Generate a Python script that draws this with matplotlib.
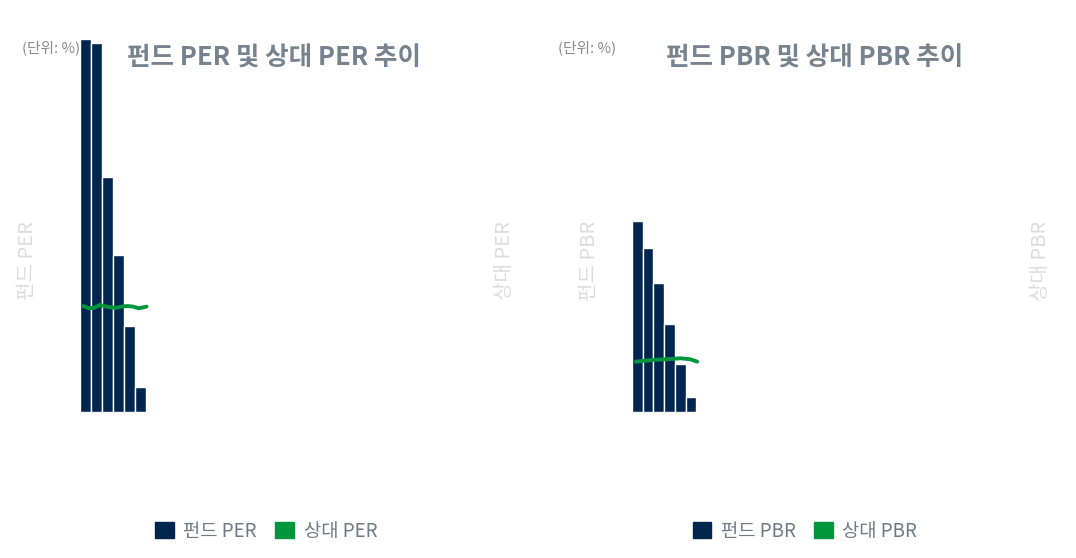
import matplotlib.pyplot as plt
from matplotlib.patches import Patch

plt.rcParams['font.family'] = ['Noto Sans CJK KR', 'DejaVu Sans']

# data (no tick labels are shown so scale is relative)
fund_per = [40.0, 39.6, 25.2, 16.8, 9.2, 2.7]
rel_per_x = [-0.2, 0.3, 0.8, 1.3, 1.8, 2.3, 2.8, 3.3, 3.8, 4.3, 4.8, 5.5]
rel_per = [0.568, 0.556, 0.559, 0.574, 0.566, 0.561, 0.559, 0.566, 0.568, 0.565, 0.556, 0.565]

fund_pbr = [2.05, 1.76, 1.38, 0.94, 0.51, 0.16]
rel_pbr_x = [-0.13, 1.46, 3.05, 3.99, 4.92, 5.57]
rel_pbr = [0.270, 0.279, 0.284, 0.288, 0.283, 0.270]

navy = '#00264f'
green = '#00963c'
title_c = '#76828e'
n_slots = 37

W, H = 1076, 558
fig = plt.figure(figsize=(W / 100, H / 100), dpi=100)


def px(x0, y0, w, h):
    return [x0 / W, 1 - (y0 + h) / H, w / W, h / H]


def panel(rect, fund, rx, rel, ymax, fund_lbl, rel_lbl, title, tx, lab_l, lab_r, leg_x):
    ax = fig.add_axes(rect)
    ax.bar(range(len(fund)), fund, width=1.0, color=navy, edgecolor='white', linewidth=1)
    ax.set_xlim(-0.5, n_slots - 0.5)
    ax.set_ylim(0, ymax)
    ax.axis('off')
    ax2 = ax.twinx()
    ax2.plot(rx, rel, color=green, lw=2.8, solid_capstyle='round')
    ax2.set_ylim(0, 2)
    ax2.axis('off')

    fig.text(tx / W, 1 - 58 / H, title, ha='center', va='center',
             fontsize=18.4, fontweight='bold', color=title_c)
    fig.text(lab_l / W, 1 - 261 / H, fund_lbl, rotation=90, ha='center', va='center',
             fontsize=14.5, color='#dcdcdc')
    fig.text(lab_r / W, 1 - 261 / H, rel_lbl, rotation=90, ha='center', va='center',
             fontsize=14.5, color='#dcdcdc')
    handles = [Patch(color=navy, label=fund_lbl), Patch(color=green, label=rel_lbl)]
    fig.legend(handles=handles, ncol=2, loc='center', bbox_to_anchor=(leg_x / W, 1 - 531 / H),
               frameon=False, fontsize=13.5, labelcolor='#6e7b87', handlelength=1.0,
               handleheight=1.0, handletextpad=0.5, columnspacing=1.0)


panel(px(80, 39, 410, 373), fund_per, rel_per_x, rel_per, 40,
      '펀드 PER', '상대 PER', '펀드 PER 및 상대 PER 추이', 274, 28, 505, 266)
fig.text(51 / W, 1 - 48 / H, '(단위: %)', ha='center', va='center', fontsize=10.6, color='#8a8a8a')

panel(px(632, 39, 397, 373), fund_pbr, rel_pbr_x, rel_pbr, 4,
      '펀드 PBR', '상대 PBR', '펀드 PBR 및 상대 PBR 추이', 815, 590, 1040, 805)
fig.text(587 / W, 1 - 48 / H, '(단위: %)', ha='center', va='center', fontsize=10.6, color='#8a8a8a')

fig.savefig('out.png', dpi=100)
